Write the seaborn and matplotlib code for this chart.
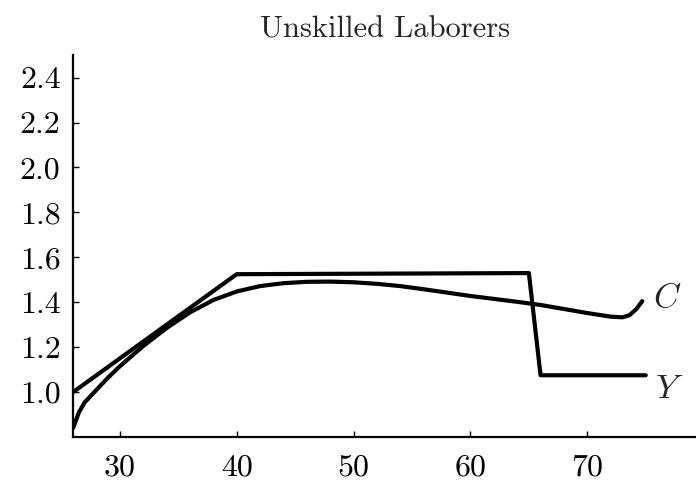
import matplotlib
matplotlib.use("Agg")
import matplotlib.pyplot as plt
import seaborn as sns
import pandas as pd

# ---- data ----
age_y = [26, 40, 65, 66, 75]
income_y = [1.0, 1.525, 1.53, 1.075, 1.075]

age_c = [26, 26.5, 27, 28, 29, 30, 32, 34, 36, 38, 40, 42, 44, 46, 48, 50, 52, 54,
         56, 58, 60, 62, 64, 66, 68, 70, 72, 73, 73.6, 74.2, 74.7]
cons_c = [0.84, 0.91, 0.955, 1.01, 1.065, 1.115, 1.205, 1.285, 1.355, 1.41, 1.448,
          1.472, 1.485, 1.491, 1.492, 1.489, 1.482, 1.472, 1.458, 1.443, 1.428,
          1.415, 1.402, 1.388, 1.37, 1.352, 1.336, 1.333, 1.342, 1.37, 1.405]

x_ticks = [30, 40, 50, 60, 70]
y_ticks = [1.0, 1.2, 1.4, 1.6, 1.8, 2.0, 2.2, 2.4]
y_tick_labels = ["1.0", "1.2", "1.4", "1.6", "1.8", "2.0", "2.2", "2.4"]
title = "Unskilled Laborers"
label_c = "C"
label_y = "Y"

sns.set_style("ticks")
plt.rcParams["font.family"] = ["cmr10", "DejaVu Serif"]
plt.rcParams["axes.formatter.use_mathtext"] = True
plt.rcParams["mathtext.fontset"] = "cm"

fig = plt.figure(figsize=(6.96, 4.84), dpi=100)
ax = fig.add_axes([0.105, 0.097, 0.895, 0.789])

df_y = pd.DataFrame({"age": age_y, "val": income_y})
df_c = pd.DataFrame({"age": age_c, "val": cons_c})
sns.lineplot(data=df_y, x="age", y="val", ax=ax, color="black", linewidth=3.0,
             sort=False, estimator=None)
sns.lineplot(data=df_c, x="age", y="val", ax=ax, color="black", linewidth=3.0,
             sort=False, estimator=None)

ax.set_xlim(26, 79.3)
ax.set_ylim(0.8, 2.5)
ax.set_xticks(x_ticks)
ax.set_xticklabels([str(t) for t in x_ticks])
ax.set_yticks(y_ticks)
ax.set_yticklabels(y_tick_labels)
ax.set_xlabel("")
ax.set_ylabel("")
ax.tick_params(direction="in", length=4, width=1, labelsize=23, colors="black", pad=9)
ax.tick_params(axis="x", pad=12)
for s in ["top", "right"]:
    ax.spines[s].set_visible(False)
for s in ["left", "bottom"]:
    ax.spines[s].set_linewidth(1.6)
    ax.spines[s].set_color("black")

ax.text(75.6, cons_c[-1] + 0.015, "$" + label_c + "$", fontsize=25, va="center", ha="left")
ax.text(75.8, income_y[-1] - 0.06, "$" + label_y + "$", fontsize=25, va="center", ha="left")

fig.text(0.553, 0.938, title, ha="center", va="center", fontsize=22)

fig.savefig("out.png", dpi=100)
